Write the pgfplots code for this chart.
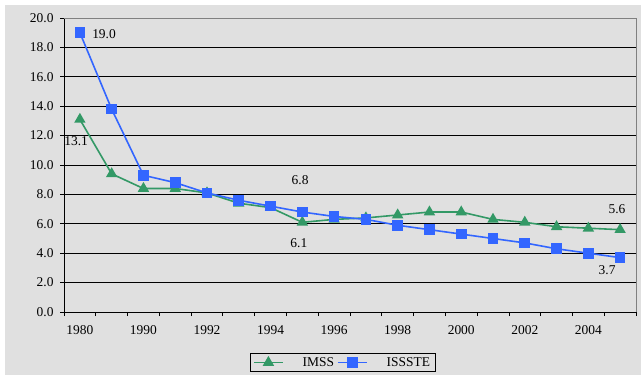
\documentclass[border=0pt]{standalone}
\usepackage{pgfplots}
\pgfplotsset{compat=1.18}
\usepackage{fontspec}
\setmainfont{Liberation Serif}
\definecolor{bg}{HTML}{E0E0E0}
\definecolor{imss}{HTML}{339966}
\definecolor{isss}{HTML}{3366FF}
\definecolor{bord}{HTML}{808080}
\begin{document}
\begin{tikzpicture}[x=1bp,y=1bp]
\fill[white] (0,0) rectangle (641,379);
\fill[bg] (5,4) rectangle (641,374);
\path[use as bounding box] (0,0) rectangle (641,379);
\begin{axis}[
  at={(64bp,67bp)}, anchor=south west,
  scale only axis, width=572bp, height=294bp,
  xmin=-0.5, xmax=17.5, ymin=0, ymax=20,
  axis x line*=bottom, axis y line*=left,
  axis line style={black, line width=0.8bp},
  xtick={0,2,...,16},
  xticklabels={1980,1990,1992,1994,1996,1998,2000,2002,2004},
  major x tick style={draw=none},
  minor xtick={-0.5,0.5,...,17.5},
  minor tick length=4bp,
  minor x tick style={black, line width=0.8bp},
  ytick={0,2,...,20},
  major tick length=4bp,
  tick align=outside,
  y tick style={black, line width=0.8bp},
  ymajorgrids, grid style={black, line width=0.8bp},
  y tick label style={/pgf/number format/fixed, /pgf/number format/fixed zerofill, /pgf/number format/precision=1, /pgf/number format/assume math mode=true, xshift=-3bp},
  x tick label style={yshift=-6bp},
  ticklabel style={font=\fontsize{13.5}{15}\selectfont},
  legend columns=2,
  legend style={at={(0.487,-0.1718)}, anchor=center, draw=black, line width=0.8bp, fill=bg,
    font=\fontsize{13.5}{15}\selectfont, inner xsep=3bp, inner ysep=1.5bp,
    /tikz/every odd column/.append style={column sep=17bp},
    /tikz/every even column/.append style={column sep=1bp}},
  legend image code/.code={\draw[mark repeat=2,mark phase=2] plot coordinates {(0bp,0bp)(14.5bp,0bp)(29bp,0bp)};},
  clip=false,
]
\addplot[imss, line width=1.6bp, mark=triangle*, mark size=5bp, mark options={solid}] coordinates {
(0,13.1)(1,9.4)(2,8.4)(3,8.4)(4,8.1)(5,7.4)(6,7.1)(7,6.1)(8,6.3)(9,6.4)(10,6.6)(11,6.8)(12,6.8)(13,6.3)(14,6.1)(15,5.8)(16,5.7)(17,5.6)};
\addlegendentry{IMSS}
\addplot[isss, line width=1.6bp, mark=square*, mark size=4.5bp, mark options={solid}] coordinates {
(0,19.0)(1,13.8)(2,9.3)(3,8.8)(4,8.1)(5,7.6)(6,7.2)(7,6.8)(8,6.5)(9,6.3)(10,5.9)(11,5.6)(12,5.3)(13,5.0)(14,4.7)(15,4.3)(16,4.0)(17,3.7)};
\addlegendentry{ISSSTE}
\draw[bord, line width=0.8bp] (rel axis cs:0,1) -- (rel axis cs:1,1) -- (rel axis cs:1,0);
\begin{scope}[every node/.style={font=\fontsize{13.5}{15}\selectfont, inner sep=0pt}]
\node at (axis cs:0.76,18.9) {19.0};
\node at (axis cs:-0.12,11.63) {13.1};
\node at (axis cs:6.93,8.98) {6.8};
\node at (axis cs:6.89,4.69) {6.1};
\node at (axis cs:16.9,7.0) {5.6};
\node at (axis cs:16.59,2.86) {3.7};
\end{scope}
\end{axis}
\end{tikzpicture}
\end{document}
